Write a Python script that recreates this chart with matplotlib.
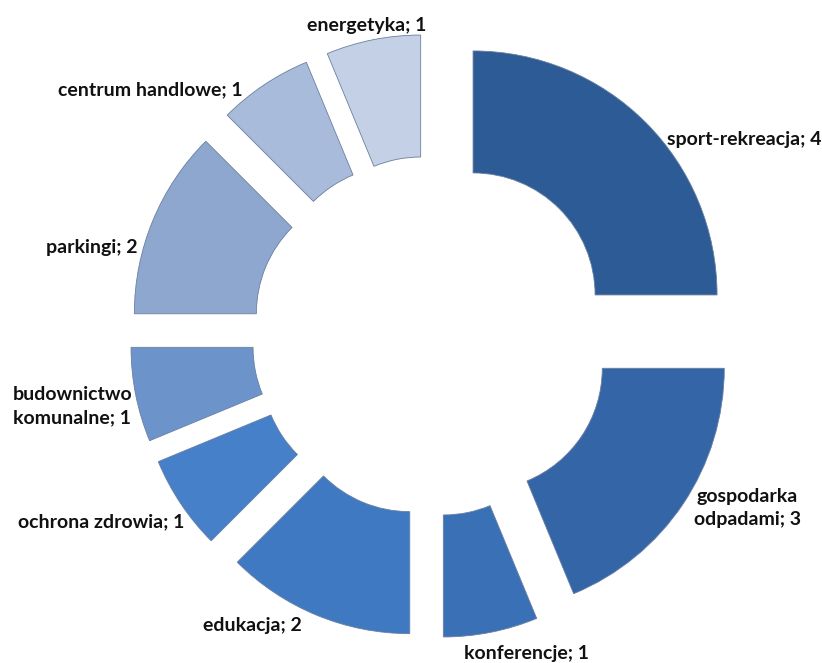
import matplotlib
matplotlib.use("Agg")
import matplotlib.pyplot as plt

categories = ["sport-rekreacja", "gospodarka\nodpadami", "konferencje", "edukacja",
              "ochrona zdrowia", "budownictwo\nkomunalne", "parkingi",
              "centrum handlowe", "energetyka"]
values = [4, 3, 1, 2, 1, 1, 2, 1, 1]
colors = ["#2C5B95", "#3466A7", "#3A70B6", "#3F79C1", "#4580C8",
          "#6C94CB", "#8EA7CF", "#A9BBDB", "#C4D0E6"]

# layout (pixels in the 822x663 canvas)
W, H = 822, 663
CX, CY, RPX = 432, 336, 244
label_pos = [(744, 140, "center"), (747, 508, "center"), (526, 653, "center"),
             (252, 625, "center"), (101, 522, "center"), (13, 406, "left"),
             (92, 247, "center"), (150, 90, "center"), (367, 25, "center")]

fig = plt.figure(figsize=(W / 100, H / 100), dpi=100)
ax = fig.add_axes([0, 0, 1, 1])

wedges, _ = ax.pie(values, colors=colors, startangle=90, counterclock=False,
                   explode=[0.238] * len(values), radius=1.0,
                   wedgeprops=dict(width=0.5, edgecolor="#6a7fa0", linewidth=0.6))
ax.set_xlim(-CX / RPX, (W - CX) / RPX)
ax.set_ylim(-(H - CY) / RPX, CY / RPX)
ax.set_aspect("auto")
ax.axis("off")

for name, v, (px, py, ha) in zip(categories, values, label_pos):
    fig.text(px / W, 1 - py / H, f"{name}; {v}", ha=ha, va="center",
             fontsize=14, fontweight="bold",
             family=["Lato", "DejaVu Sans"], color="#111111",
             multialignment=ha, linespacing=1.4)

fig.savefig("out.png", dpi=100)
